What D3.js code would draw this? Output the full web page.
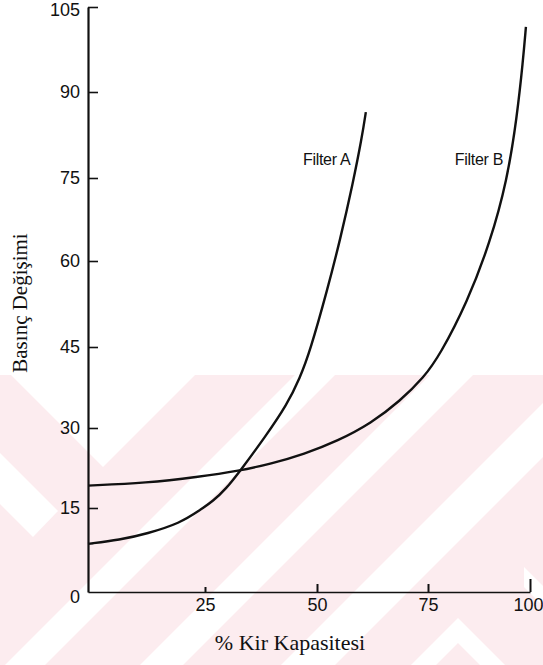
<!DOCTYPE html>
<html>
<head>
<meta charset="utf-8">
<script src="https://cdn.jsdelivr.net/npm/d3@7"></script>
<style>
  body { margin: 0; background: #fff; }
  svg { display: block; }
  .tick text { font-family: "Liberation Sans", Arial, sans-serif; font-size: 18px; fill: #111; }
</style>
</head>
<body>
<svg id="chart"></svg>
<script>
// values
const xTicks = [25, 50, 75, 100]
const yTicks = [0, 15, 30, 45, 60, 75, 90, 105]

// [% kir kapasitesi, basinc degisimi]
const filterA = [
  [0, 8.6], [6.8, 9.3], [12.6, 10.4], [19.7, 12.3], [23.9, 14.6],
  [26.8, 16.3], [29.7, 18.6], [32.8, 21.9], [38.4, 28.3], [43.3, 34.3],
  [46.2, 39.3], [48.4, 44.1], [52.3, 54.9], [55.2, 63.8], [58.1, 74.1],
  [60.1, 82.0], [61.0, 86.5]
]
const filterB = [
  [0, 19.2], [12.6, 19.7], [23.3, 20.8], [32.8, 22.0], [39.7, 23.3],
  [47.1, 25.1], [54.7, 27.6], [62.2, 30.9], [68.7, 35.0], [74.1, 39.4],
  [77.9, 43.5], [84.6, 52.8], [90.2, 63.3], [94.4, 74.6], [96.8, 85.6],
  [98.3, 95.6], [99.0, 101.5]
]
const seriesNames = ["Filter A", "Filter B"]
const labelSpots = [[57.5, 77.3], [93.4, 77.3]]

const width = 543, height = 665

const svg = d3.select("#chart").attr("width", width).attr("height", height)

// pink watermark band in the lower part of the scan
const wm = svg.append("g")
wm.append("rect").attr("x", 0).attr("y", 375).attr("width", width).attr("height", height - 375)
  .attr("fill", "#fcecef")
const whiteShapes = [
  [[11, 375], [103, 467], [195, 375]],
  [[0, 453], [58, 511], [33, 537], [0, 504]],
  [[295, 375], [335, 375], [45, 665], [5, 665]],
  [[430, 375], [473, 375], [183, 665], [140, 665]],
  [[543, 403], [543, 457], [335, 665], [281, 665]],
  [[411, 665], [458, 618], [505, 665], [480, 665], [458, 643], [436, 665]],
  [[524, 567], [543, 586], [543, 606], [524, 587]]
]
wm.selectAll("polygon").data(whiteShapes).join("polygon")
  .attr("points", (d) => d.map((p) => p.join(",")).join(" "))
  .attr("fill", "#fff")

// scales (piecewise to follow the slightly uneven scan)
const x = d3.scaleLinear().domain([0, 25, 50, 75, 100]).range([88, 205, 317, 428, 530])
const y = d3.scaleLinear().domain(yTicks).range([592, 508, 428, 347, 261, 178, 92, 7])

// y axis, ticks point into the plot
const yAxis = svg.append("g").attr("transform", `translate(${x(0)},0)`)
  .call(d3.axisLeft(y).tickValues(yTicks).tickSizeInner(-10).tickSizeOuter(0).tickPadding(8))
yAxis.select(".domain").attr("stroke", "#111").attr("stroke-width", 2.2)
yAxis.selectAll(".tick line").attr("stroke", "#111").attr("stroke-width", 1.6)
yAxis.selectAll(".tick").filter((d) => d === 0).select("line").remove()
yAxis.selectAll(".tick").filter((d) => d === 0).select("text").attr("dy", "0.6em")
yAxis.selectAll(".tick").filter((d) => d === 105).select("text").attr("dy", "0.45em")

// x axis
const xAxis = svg.append("g").attr("transform", `translate(0,${y(0)})`)
  .call(d3.axisBottom(x).tickValues(xTicks).tickSizeInner(-8).tickSizeOuter(0).tickPadding(6))
xAxis.select(".domain").attr("stroke", "#111").attr("stroke-width", 1.6)
xAxis.selectAll(".tick line").attr("stroke", "#111").attr("stroke-width", 2)
xAxis.selectAll(".tick").filter((d) => d === 25).select("line").attr("y2", -5)
xAxis.selectAll(".tick").filter((d) => d === 100).select("line").attr("y2", -13)
// last label sits against the right edge in the scan
xAxis.selectAll(".tick").filter((d) => d === 100).select("text")
  .attr("text-anchor", "end").attr("x", width - x(100))

// curves
const line = d3.line()
  .x((d) => x(d[0]))
  .y((d) => y(d[1]))
  .curve(d3.curveBasis)

svg.append("g")
  .selectAll("path")
  .data([filterA, filterB])
  .join("path")
  .attr("d", line)
  .attr("fill", "none")
  .attr("stroke", "#111")
  .attr("stroke-width", 2.4)

// curve labels
svg.append("g")
  .selectAll("text")
  .data(seriesNames)
  .join("text")
  .attr("x", (d, i) => x(labelSpots[i][0]))
  .attr("y", (d, i) => y(labelSpots[i][1]))
  .attr("text-anchor", "end")
  .attr("font-family", "Liberation Sans, Arial, sans-serif")
  .attr("font-size", 16)
  .attr("letter-spacing", -0.3)
  .attr("fill", "#111")
  .text((d) => d)

// axis titles
svg.append("text")
  .attr("x", 290).attr("y", 650)
  .attr("text-anchor", "middle")
  .attr("font-family", "Liberation Serif, Times New Roman, serif")
  .attr("font-size", 22)
  .attr("fill", "#111")
  .text("% Kir Kapasitesi")

svg.append("text")
  .attr("transform", "translate(27,303) rotate(-90)")
  .attr("text-anchor", "middle")
  .attr("font-family", "Liberation Serif, Times New Roman, serif")
  .attr("font-size", 21)
  .attr("fill", "#111")
  .text("Basınç Değişimi")
</script>
</body>
</html>
